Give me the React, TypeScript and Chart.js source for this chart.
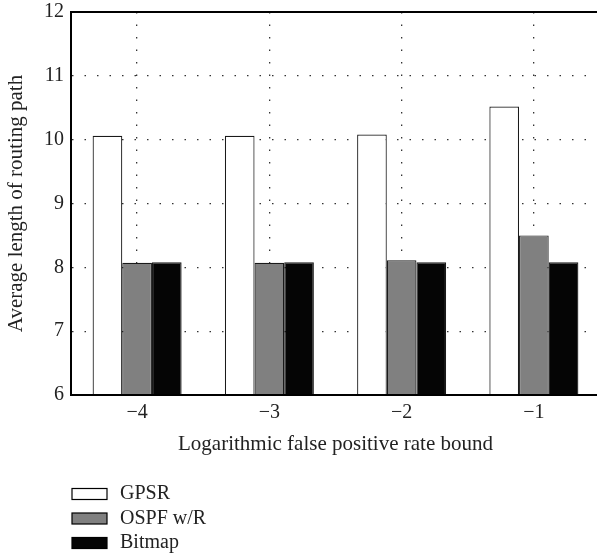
import React, { useEffect, useRef } from "react";
import { Chart, registerables } from "chart.js";

Chart.register(...registerables);

const categories = ["−4", "−3", "−2", "−1"];
const gpsr = [10.06, 10.06, 10.08, 10.52];
const ospf = [8.07, 8.07, 8.11, 8.5];
const bitmap = [8.08, 8.08, 8.08, 8.08];
const seriesNames = ["GPSR", "OSPF w/R", "Bitmap"];
const seriesColors = ["#ffffff", "#808080", "#050505"];
const yTicks = [6, 7, 8, 9, 10, 11, 12];

const FONT = "'Liberation Serif', 'Times New Roman', serif";
const TEXT = "#222";

const frameAndLegend = {
  id: "frameAndLegend",
  afterDraw(chart: any) {
    const { ctx, chartArea } = chart;
    ctx.save();
    ctx.strokeStyle = "#000";
    ctx.lineWidth = 2;
    ctx.beginPath();
    ctx.moveTo(chartArea.left - 1, chartArea.top);
    ctx.lineTo(chartArea.right + 1, chartArea.top);
    ctx.stroke();

    const x0 = chartArea.left + 1;
    const y0 = chartArea.bottom + 99;
    const rowH = 24.5;
    chart.data.datasets.forEach((ds: any, i: number) => {
      const cy = y0 + i * rowH;
      ctx.fillStyle = ds.backgroundColor;
      ctx.fillRect(x0, cy - 5.5, 35, 11);
      ctx.strokeStyle = "#000";
      ctx.lineWidth = 1.2;
      ctx.strokeRect(x0, cy - 5.5, 35, 11);
      ctx.fillStyle = TEXT;
      ctx.font = `20px ${FONT}`;
      ctx.textBaseline = "middle";
      ctx.textAlign = "left";
      ctx.fillText(ds.label, x0 + 48, cy);
    });
    ctx.restore();
  },
};

export default function App() {
  const ref = useRef<HTMLCanvasElement | null>(null);

  useEffect(() => {
    document.body.style.margin = "0";
    const canvas = ref.current;
    if (!canvas) return;
    const values = [gpsr, ospf, bitmap];
    const chart = new Chart(canvas, {
      type: "bar",
      data: {
        labels: categories,
        datasets: values.map((v, i) => ({
          label: seriesNames[i],
          data: v,
          backgroundColor: seriesColors[i],
          borderColor: "#1a1a1a",
          borderWidth: 1.2,
          barPercentage: 1,
          categoryPercentage: 0.673,
        })),
      },
      options: {
        responsive: false,
        animation: false,
        events: [],
        layout: { padding: { left: 0, right: 2, top: 12, bottom: 102 } },
        plugins: {
          legend: { display: false },
          tooltip: { enabled: false },
        },
        scales: {
          x: {
            type: "category",
            grid: { offset: false, color: "#333", lineWidth: 1.3, drawTicks: false },
            border: { display: true, color: "#000", width: 2, dash: [1.5, 11], z: 1 },
            ticks: { font: { family: FONT, size: 20 }, color: TEXT, padding: 6 },
            title: {
              display: true,
              text: "Logarithmic false positive rate bound",
              font: { family: FONT, size: 21 },
              color: TEXT,
              padding: { top: 0, bottom: 0 },
            },
            afterFit: (s: any) => {
              s.height = 62;
              s.paddingLeft = 0;
              s.paddingRight = 0;
            },
          },
          y: {
            min: 6,
            max: 12,
            afterBuildTicks: (s: any) => {
              s.ticks = yTicks.map((v) => ({ value: v }));
            },
            grid: { color: "#333", lineWidth: 1.3, drawTicks: false },
            border: { display: true, color: "#000", width: 2, dash: [1.5, 11] },
            ticks: { font: { family: FONT, size: 20 }, color: TEXT, padding: 7 },
            title: {
              display: true,
              text: "Average length of routing path",
              font: { family: FONT, size: 21 },
              color: TEXT,
              padding: { top: 4, bottom: 0 },
            },
            afterFit: (s: any) => {
              s.width = 71;
              s.paddingTop = 0;
              s.paddingBottom = 0;
            },
          },
        },
      },
      plugins: [frameAndLegend],
    });
    return () => chart.destroy();
  }, []);

  return (
    <div style={{ width: 597, height: 559, overflow: "hidden" }}>
      <canvas ref={ref} width={602} height={559} style={{ display: "block" }} />
    </div>
  );
}
